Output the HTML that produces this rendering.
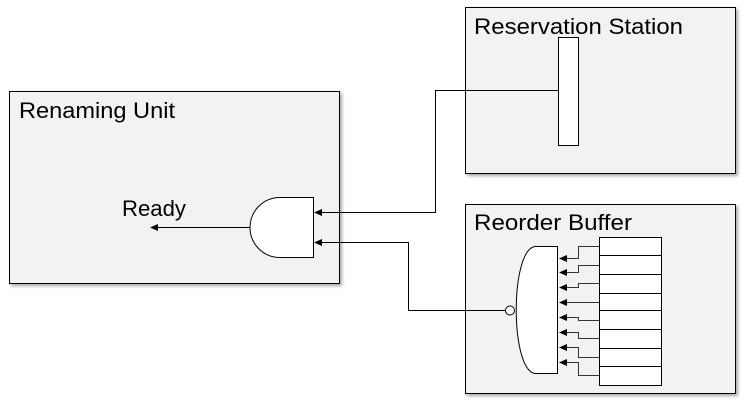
<!DOCTYPE html>
<html><head><style>body{margin:0;background:#fff}svg{display:block}</style></head><body>
<svg width="745" height="404" xmlns="http://www.w3.org/2000/svg" font-family="Liberation Sans, sans-serif">
<defs>
<filter id="sh" x="-5%" y="-5%" width="110%" height="110%"><feDropShadow dx="2" dy="2" stdDeviation="1.5" flood-color="#000" flood-opacity="0.35"/></filter>
<marker id="ar" markerWidth="8" markerHeight="8" refX="7" refY="4" orient="auto" markerUnits="userSpaceOnUse"><path d="M0,0.5 L8,4 L0,7.5 z" fill="#000"/></marker>
</defs>
<g fill="#f2f2f2" stroke="#000" stroke-width="1" filter="url(#sh)">
<rect x="9.5" y="91.5" width="330" height="192"/>
<rect x="465.5" y="7.5" width="270" height="166"/>
<rect x="465.5" y="204.5" width="270" height="189"/>
</g>
<g font-size="22" fill="#000">
<text x="19" y="118" textLength="156" lengthAdjust="spacingAndGlyphs">Renaming Unit</text>
<text x="474" y="34" textLength="209" lengthAdjust="spacingAndGlyphs">Reservation Station</text>
<text x="474" y="230" textLength="158" lengthAdjust="spacingAndGlyphs">Reorder Buffer</text>
<text x="122" y="216" textLength="64" lengthAdjust="spacingAndGlyphs">Ready</text>
</g>
<g fill="none" stroke="#000" stroke-width="1">
<polyline points="558,90.5 435.5,90.5 435.5,212.5 315,212.5" marker-end="url(#ar)"/>
<polyline points="505,310.5 408.5,310.5 408.5,242.5 315,242.5" marker-end="url(#ar)"/>
<line x1="250" y1="227.5" x2="151" y2="227.5" marker-end="url(#ar)"/>
</g>
<rect x="558.5" y="37.5" width="20" height="108" fill="#fff" stroke="#000"/>
<path d="M313.5,197.5 L280,197.5 A30,30 0 0 0 280,257.5 L313.5,257.5 Z" fill="#fff" stroke="#000"/>
<path d="M557.5,246.5 L535,246.5 C510,250 510,370 535,373.5 L557.5,373.5 Z" fill="#fff" stroke="#000"/>
<circle cx="510" cy="310.5" r="4.5" fill="#fff" stroke="#000"/>
<g fill="#fff" stroke="#000">
<rect x="599.5" y="237.5" width="62" height="148"/>
</g>
<g stroke="#000">
<line x1="599" y1="255.5" x2="661" y2="255.5"/>
<line x1="599" y1="274.5" x2="661" y2="274.5"/>
<line x1="599" y1="293.5" x2="661" y2="293.5"/>
<line x1="599" y1="310.5" x2="661" y2="310.5"/>
<line x1="599" y1="329.5" x2="661" y2="329.5"/>
<line x1="599" y1="348.5" x2="661" y2="348.5"/>
<line x1="599" y1="366.5" x2="661" y2="366.5"/>
</g>
<g fill="none" stroke="#333" stroke-width="1">
<polyline points="599,246.5 578.5,246.5 578.5,258.5 560,258.5" marker-end="url(#ar)"/>
<polyline points="599,265.5 578.5,265.5 578.5,272.5 560,272.5" marker-end="url(#ar)"/>
<polyline points="599,283.5 578.5,283.5 578.5,287.5 560,287.5" marker-end="url(#ar)"/>
<polyline points="599,302.5 560,302.5" marker-end="url(#ar)"/>
<polyline points="599,320.5 578.5,320.5 578.5,317.5 560,317.5" marker-end="url(#ar)"/>
<polyline points="599,338.5 578.5,338.5 578.5,332.5 560,332.5" marker-end="url(#ar)"/>
<polyline points="599,357.5 578.5,357.5 578.5,347.5 560,347.5" marker-end="url(#ar)"/>
<polyline points="599,375.5 578.5,375.5 578.5,362.5 560,362.5" marker-end="url(#ar)"/>
</g>
</svg>
</body></html>
